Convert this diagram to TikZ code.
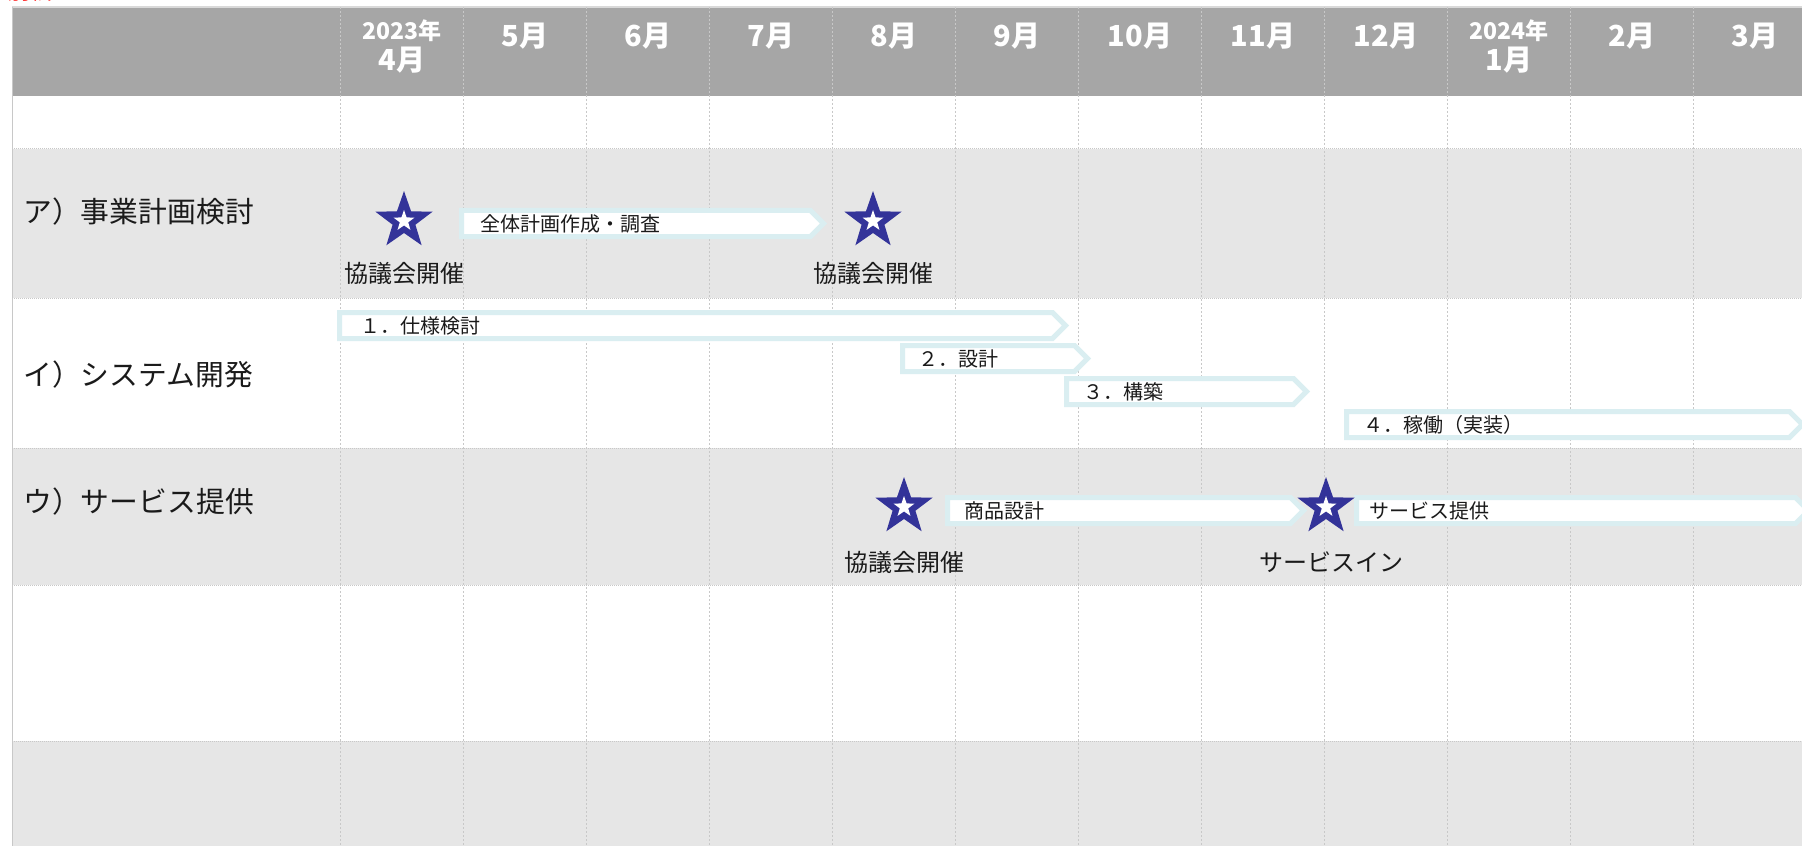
\documentclass[tikz,border=0pt]{standalone}
\usepackage{fontspec}
\setmainfont{Noto Sans CJK JP}
\usetikzlibrary{shapes.geometric}
\definecolor{hdr}{RGB}{166,166,166}
\definecolor{rowg}{RGB}{230,230,230}
\definecolor{gridc}{RGB}{200,200,200}
\definecolor{topc}{RGB}{217,217,217}
\definecolor{barc}{RGB}{218,238,241}
\definecolor{starc}{RGB}{51,51,153}
\definecolor{txt}{RGB}{26,26,26}
\newcommand{\ganttbar}[5]{% name, left, tip, top, unused
  \draw[barshape] (#2+2.5,#4+2.5) -- (#3-16.5,#4+2.5) -- (#3-3.5,#4+15.5) -- (#3-16.5,#4+28.5) -- (#2+2.5,#4+28.5) -- cycle;
}
\tikzset{
  lbl/.style={font=\fontsize{12}{14}\selectfont, text=txt, inner sep=0},
  rowlbl/.style={font=\fontsize{14.4}{17}\selectfont, text=txt, anchor=west, inner sep=0},
  mon/.style={font=\bfseries\fontsize{14.5}{16}\selectfont, text=white, inner sep=0},
  yr/.style={font=\bfseries\fontsize{11.5}{13}\selectfont, text=white, inner sep=0},
  bartxt/.style={font=\fontsize{10}{12}\selectfont, text=txt, anchor=west, inner sep=0},
  barshape/.style={draw=barc, fill=white, line width=2.5pt, line join=miter},
  bigstar/.style={star, star points=5, star point ratio=2.5, fill=starc, minimum size=30pt, inner sep=0},
  smallstar/.style={star, star points=5, star point ratio=2.5, fill=white, minimum size=11pt, inner sep=0},
  vgrid/.style={draw=gridc, line width=0.5pt, dash pattern=on 1pt off 1pt},
  hgrid/.style={draw=gridc, line width=0.5pt, dash pattern=on 0.5pt off 0.5pt},
}
\begin{document}
\begin{tikzpicture}[x=0.5pt,y=-0.5pt]
\useasboundingbox (0,0) rectangle (1802,845);
% note at top (cut off by the page edge, as in the reference)
\node[font=\fontsize{11}{13}\selectfont, text=red, anchor=base west, inner sep=0] (note) at (8,0) {別紙};
% backgrounds
\fill[hdr] (12,7) rectangle (1820,96);
\fill[white] (12,96) rectangle (1820,149);
\fill[rowg] (12,149) rectangle (1820,298);
\fill[white] (12,298) rectangle (1820,448);
\fill[rowg] (12,448) rectangle (1820,585);
\fill[white] (12,585) rectangle (1820,741);
\fill[rowg] (12,741) rectangle (1820,850);
% borders
\draw[topc, line width=0.6pt] (12,7) -- (1820,7);
\draw[gridc, line width=0.5pt] (12,7) -- (12,850);
\foreach \yy in {149,298,448,585,741} \draw[hgrid] (12,\yy) -- (1820,\yy);
\foreach \i in {0,...,11} \draw[vgrid] (340.5+123*\i,7) -- (340.5+123*\i,850);
% header
\node[yr] (y23) at (402,31) {2023年};
\node[mon] (m04) at (402,60) {4月};
\node[mon] (m05) at (525,36) {5月};
\node[mon] (m06) at (648,36) {6月};
\node[mon] (m07) at (771,36) {7月};
\node[mon] (m08) at (894,36) {8月};
\node[mon] (m09) at (1017,36) {9月};
\node[mon] (m10) at (1140,36) {10月};
\node[mon] (m11) at (1263,36) {11月};
\node[mon] (m12) at (1386,36) {12月};
\node[yr] (y24) at (1509,31) {2024年};
\node[mon] (m01) at (1509,60) {1月};
\node[mon] (m02) at (1632,36) {2月};
\node[mon] (m03) at (1755,36) {3月};
% row labels
\node[rowlbl] (ra) at (23,212) {ア）事業計画検討};
\node[rowlbl] (rb) at (23,375) {イ）システム開発};
\node[rowlbl] (rc) at (23,502) {ウ）サービス提供};
% bars
\ganttbar{ba}{459}{827}{208}{}
\node[bartxt] (ta) at (480,224) {全体計画作成・調査};
\ganttbar{b1}{337}{1069}{310}{}
\node[bartxt] (t1) at (360,326) {１．仕様検討};
\ganttbar{b2}{900}{1091}{343}{}
\node[bartxt] (t2) at (918,359) {２．設計};
\ganttbar{b3}{1064}{1310}{376}{}
\node[bartxt] (t3) at (1083,392) {３．構築};
\ganttbar{b4}{1344}{1806}{409}{}
\node[bartxt] (t4) at (1363,425) {４．稼働（実装）};
\ganttbar{bc1}{945}{1307}{495}{}
\node[bartxt] (tc1) at (964,511) {商品設計};
\ganttbar{bc2}{1354}{1812}{495}{}
\node[bartxt] (tc2) at (1369,511) {サービス提供};
% stars
\node[bigstar] (s1) at (404,221) {};
\node[smallstar] (s1i) at (404,221) {};
\node[bigstar] (s2) at (873,221) {};
\node[smallstar] (s2i) at (873,221) {};
\node[bigstar] (s3) at (904,507) {};
\node[smallstar] (s3i) at (904,507) {};
\node[bigstar] (s4) at (1326,507) {};
\node[smallstar] (s4i) at (1326,507) {};
% star labels
\node[lbl] (l1) at (404,273) {協議会開催};
\node[lbl] (l2) at (873,273) {協議会開催};
\node[lbl] (l3) at (904,562) {協議会開催};
\node[lbl] (l4) at (1331,562) {サービスイン};
\end{tikzpicture}
\end{document}
